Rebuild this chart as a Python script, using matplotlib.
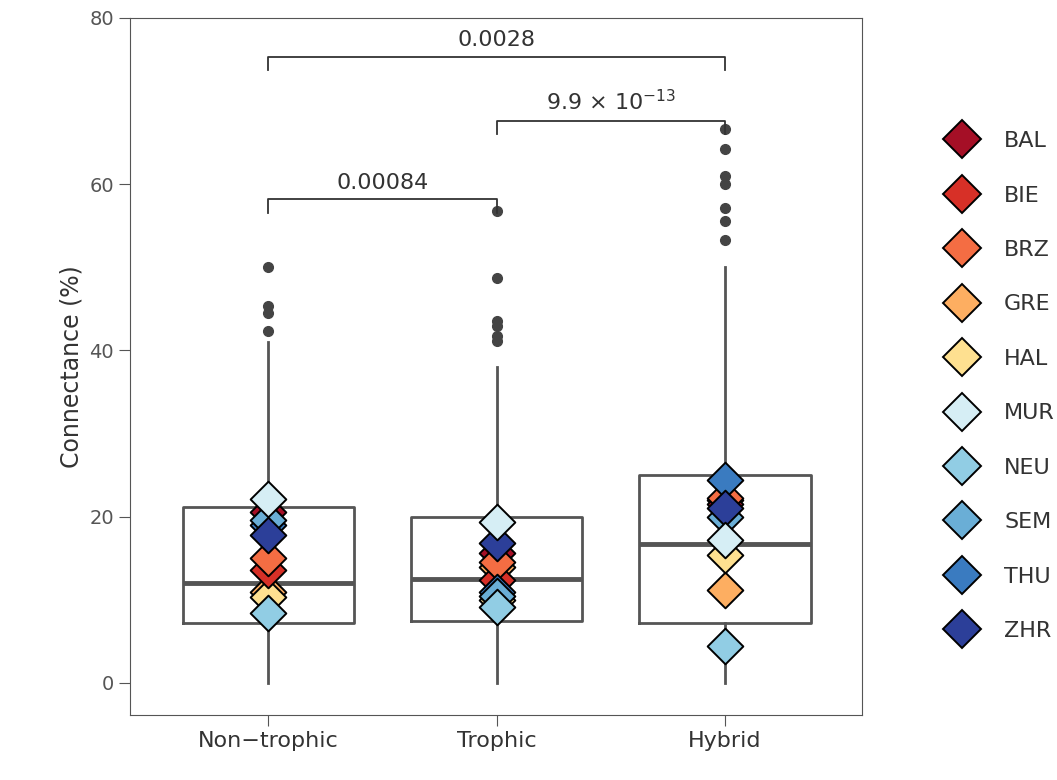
import numpy as np
import matplotlib.pyplot as plt

categories = ["Non\u2212trophic", "Trophic", "Hybrid"]
q1 = [7.2, 7.4, 7.2]
median = [12.0, 12.5, 16.7]
q3 = [21.2, 20.0, 25.0]
wlo = [0, 0, 0]
whi = [41.0, 38.0, 50.0]
outliers = [[42.3, 44.5, 45.4, 50.0],
            [41.2, 41.7, 43.0, 43.5, 48.7, 56.8],
            [53.3, 55.6, 57.1, 60.0, 61.0, 64.3, 66.6]]

sites = ["BAL", "BIE", "BRZ", "GRE", "HAL", "MUR", "NEU", "SEM", "THU", "ZHR"]
colors = ["#a50f26", "#d73027", "#f46d43", "#fdae61", "#fee090",
          "#d6eef5", "#91cde4", "#6aaed6", "#3a7bc0", "#2c3f99"]
site_vals = {
    "BAL": [20.6, 15.6, 21.5],
    "BIE": [13.6, 12.4, 22.0],
    "BRZ": [15.0, 14.5, 22.3],
    "GRE": [11.0, 14.0, 11.2],
    "HAL": [10.4, 10.0, 15.4],
    "MUR": [22.1, 19.4, 17.2],
    "NEU": [8.4, 9.2, 4.4],
    "SEM": [19.6, 10.5, 20.0],
    "THU": [19.0, 11.0, 24.4],
    "ZHR": [17.8, 16.8, 21.0],
}
# plotting order (bottom to top layer)
draw_order = ["GRE", "HAL", "BIE", "BAL", "BRZ", "THU", "SEM", "NEU", "ZHR", "MUR"]

brackets = [(0, 1, 58.2, "0.00084"), (1, 2, 67.6, r"9.9 $\times$ 10$^{-13}$"), (0, 2, 75.3, "0.0028")]

gray = "#555555"
fig = plt.figure(figsize=(10.57, 7.8), dpi=100)
ax = fig.add_axes([130/1057, 65/780, 732/1057, 697/780])

stats = []
for i in range(3):
    stats.append(dict(med=median[i], q1=q1[i], q3=q3[i], whislo=wlo[i], whishi=whi[i], fliers=outliers[i]))
ax.bxp(stats, positions=[0, 1, 2], widths=0.75, showcaps=False,
       boxprops=dict(color=gray, lw=2), whiskerprops=dict(color=gray, lw=2),
       medianprops=dict(color=gray, lw=3.5),
       flierprops=dict(marker="o", markerfacecolor="#444444", markeredgecolor="#444444", markersize=7))

for s in draw_order:
    c = colors[sites.index(s)]
    ax.scatter([0, 1, 2], site_vals[s], marker="D", s=330, color=c, edgecolor="black", lw=1.4, zorder=5)

for a, b, y, lab in brackets:
    ax.plot([a, a, b, b], [y - 1.6, y, y, y - 1.6], color="#333333", lw=1.3)
    ax.text((a + b) / 2, y + 0.8, lab, ha="center", va="bottom", fontsize=16, color="#333333")

ax.set_xlim(-0.605, 2.6)
ax.set_ylim(-3.85, 80)
ax.set_xticks([0, 1, 2])
ax.set_xticklabels(categories, fontsize=16, color="#333333")
ax.set_yticks([0, 20, 40, 60, 80])
ax.tick_params(axis="y", labelsize=14, colors="#555555", length=8)
ax.tick_params(axis="x", length=8, colors="#555555", labelcolor="#333333")
ax.set_ylabel("Connectance (%)", fontsize=17, color="#333333")
for sp in ax.spines.values():
    sp.set_color(gray)

handles = [plt.Line2D([], [], marker="D", ls="", markersize=19, markerfacecolor=c,
                      markeredgecolor="black", markeredgewidth=1.4) for c in colors]
fig.legend(handles, sites, loc="center left", bbox_to_anchor=(0.87, 0.505), frameon=False,
           fontsize=16, labelspacing=1.55, handletextpad=0.9, labelcolor="#333333")

fig.savefig("out.png", dpi=100)
